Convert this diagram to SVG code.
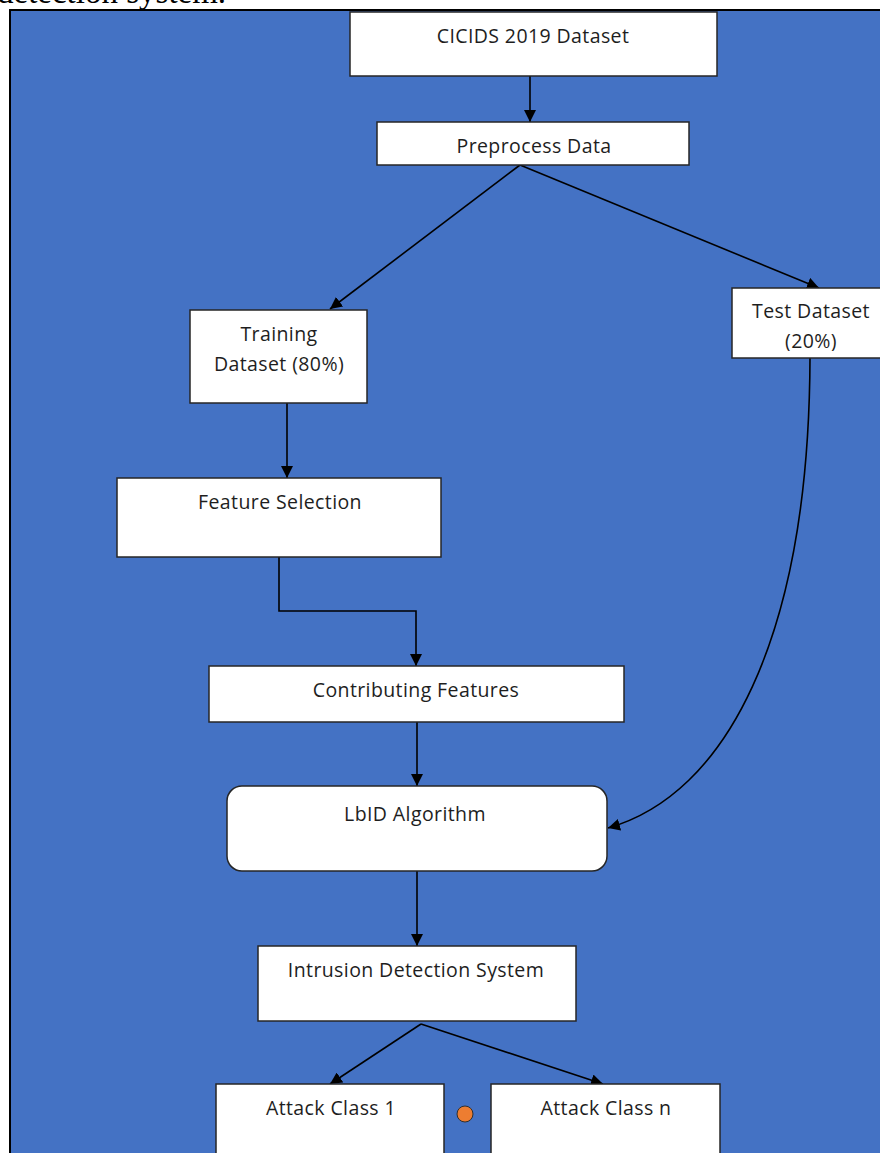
<svg xmlns="http://www.w3.org/2000/svg" width="880" height="1153" viewBox="0 0 880 1153">
<style>
.box{fill:#ffffff;stroke:#262626;stroke-width:1.5}
.lbl{font-family:"Open Sans","Liberation Sans",sans-serif;font-size:19.5px;letter-spacing:0.4px;fill:#1e1e1e;text-anchor:middle}
.con{fill:none;stroke:#000;stroke-width:1.6}
</style>
<defs>
<marker id="ah" viewBox="0 0 12 12" refX="12" refY="6" markerWidth="12" markerHeight="12" markerUnits="userSpaceOnUse" orient="auto">
<path d="M0,0 L12,6 L0,12 z" fill="#000"/>
</marker>
<clipPath id="testclip"><rect x="732" y="288" width="150" height="63"/></clipPath>
</defs>
<rect x="0" y="0" width="880" height="1153" fill="#ffffff"/>
<text x="-3" y="3" font-family="'Liberation Serif',serif" font-size="33" fill="#000">detection system.</text>
<rect x="10" y="10" width="872" height="1145" fill="#4472C4"/>
<path d="M10,1153 L10,10 L880,10" fill="none" stroke="#000" stroke-width="2"/>

<g id="connectors">
<path class="con" d="M530,76 L530,122" marker-end="url(#ah)"/>
<path class="con" d="M520,165 L330,309" marker-end="url(#ah)"/>
<path class="con" d="M520,165 L819,288" marker-end="url(#ah)"/>
<path class="con" d="M287,403 L287,478" marker-end="url(#ah)"/>
<path class="con" d="M279,557 L279,611 L416,611 L416,666" marker-end="url(#ah)"/>
<path class="con" d="M417,722 L417,786" marker-end="url(#ah)"/>
<path class="con" d="M810,358 C809,640 725,795 608,828" marker-end="url(#ah)"/>
<path class="con" d="M417,871 L417,946" marker-end="url(#ah)"/>
<path class="con" d="M421,1024 L330,1084" marker-end="url(#ah)"/>
<path class="con" d="M421,1024 L603,1084" marker-end="url(#ah)"/>
</g>

<g id="n-cicids">
<rect class="box" x="350" y="12" width="367" height="64"/>
<text class="lbl" x="533" y="43">CICIDS 2019 Dataset</text>
</g>
<g id="n-preprocess">
<rect class="box" x="377" y="122" width="312" height="43"/>
<text class="lbl" x="534" y="153">Preprocess Data</text>
</g>
<g id="n-training">
<rect class="box" x="190" y="310" width="177" height="93"/>
<text class="lbl" x="279" y="341">Training</text>
<text class="lbl" x="279" y="371">Dataset (80%)</text>
</g>
<g id="n-test">
<rect class="box" x="732" y="288" width="152" height="70"/>
<g clip-path="url(#testclip)">
<text class="lbl" x="811" y="318">Test Dataset</text>
<text class="lbl" x="811" y="348">(20%)</text>
</g>
</g>
<g id="n-feature">
<rect class="box" x="117" y="478" width="324" height="79"/>
<text class="lbl" x="280" y="509">Feature Selection</text>
</g>
<g id="n-contributing">
<rect class="box" x="209" y="666" width="415" height="56"/>
<text class="lbl" x="416" y="697">Contributing Features</text>
</g>
<g id="n-lbid">
<rect class="box" x="227" y="786" width="380" height="85" rx="15" ry="15"/>
<text class="lbl" x="415" y="821">LbID Algorithm</text>
</g>
<g id="n-ids">
<rect class="box" x="258" y="946" width="318" height="75"/>
<text class="lbl" x="416" y="977">Intrusion Detection System</text>
</g>
<g id="n-attack1">
<rect class="box" x="216" y="1084" width="228" height="80"/>
<text class="lbl" x="331" y="1115">Attack Class 1</text>
</g>
<g id="n-dot">
<circle cx="465" cy="1114" r="8" fill="#ED7D31" stroke="#2F2F2F" stroke-width="1"/>
</g>
<g id="n-attackn">
<rect class="box" x="491" y="1084" width="229" height="80"/>
<text class="lbl" x="606" y="1115">Attack Class n</text>
</g>
</svg>
